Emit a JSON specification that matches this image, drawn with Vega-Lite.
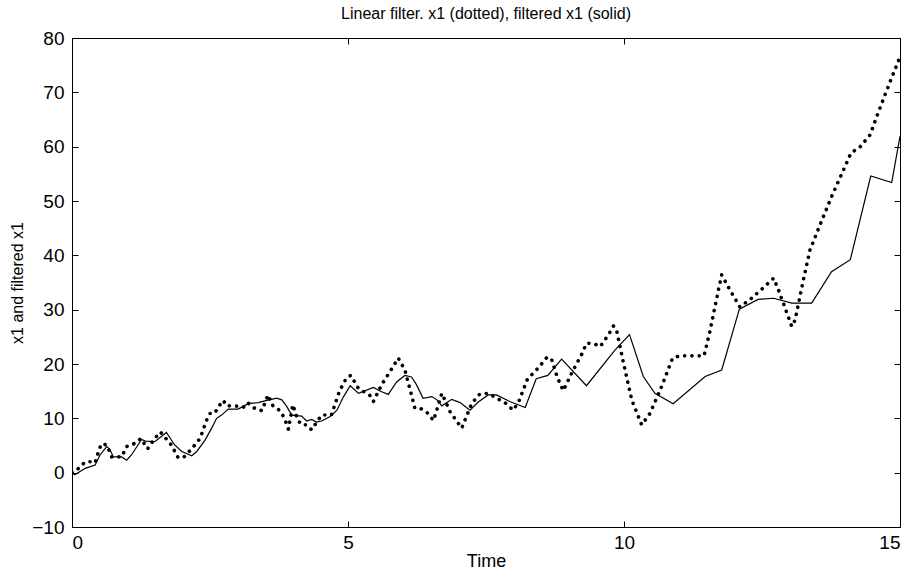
{
  "$schema": "https://vega.github.io/schema/vega-lite/v6.json",
  "autosize": {"type": "none"},
  "padding": {"left": 72, "top": 38, "right": 11, "bottom": 47},
  "width": 828,
  "height": 489,
  "background": "white",
  "title": {"text": "Linear filter. x1 (dotted), filtered x1 (solid)", "font": "Liberation Sans", "fontSize": 16, "fontWeight": "normal", "color": "black", "offset": 7},
  "config": {
    "view": {"stroke": "black", "strokeWidth": 1},
    "axis": {"grid": false, "domainColor": "black", "tickColor": "black", "labelColor": "black", "titleColor": "black", "labelFont": "Liberation Sans", "titleFont": "Liberation Sans", "labelFontSize": 19, "titleFontSize": 18, "titleFontWeight": "normal", "tickSize": -6}
  },
  "datasets": {
    "x1": [
      {"t":0,"v":0},{"t":0.12,"v":0.8},{"t":0.24,"v":2.0},{"t":0.33,"v":2.0},{"t":0.42,"v":1.8},{"t":0.48,"v":3.9},{"t":0.53,"v":5.3},{"t":0.63,"v":5.1},{"t":0.72,"v":2.9},{"t":0.9,"v":2.9},{"t":0.99,"v":4.8},{"t":1.14,"v":5.4},{"t":1.25,"v":6.3},{"t":1.37,"v":4.4},{"t":1.5,"v":6.3},{"t":1.6,"v":7.5},{"t":1.8,"v":5.1},{"t":1.92,"v":2.8},{"t":2.02,"v":2.8},{"t":2.17,"v":4.4},{"t":2.32,"v":6.3},{"t":2.44,"v":9.7},{"t":2.5,"v":10.9},{"t":2.58,"v":10.9},{"t":2.68,"v":12.5},{"t":2.74,"v":13.3},{"t":2.8,"v":12.3},{"t":2.95,"v":12.3},{"t":3.1,"v":12.0},{"t":3.18,"v":12.9},{"t":3.3,"v":11.9},{"t":3.44,"v":11.4},{"t":3.55,"v":14.3},{"t":3.64,"v":12.3},{"t":3.77,"v":11.4},{"t":3.85,"v":10.0},{"t":3.92,"v":8.0},{"t":4.0,"v":12.5},{"t":4.09,"v":9.7},{"t":4.16,"v":8.8},{"t":4.25,"v":8.8},{"t":4.34,"v":7.9},{"t":4.4,"v":8.8},{"t":4.52,"v":10.6},{"t":4.7,"v":10.6},{"t":4.84,"v":14.9},{"t":4.97,"v":17.4},{"t":5.05,"v":17.9},{"t":5.19,"v":15.5},{"t":5.4,"v":14.2},{"t":5.46,"v":13.1},{"t":5.61,"v":16.2},{"t":5.76,"v":18.6},{"t":5.91,"v":21.1},{"t":6.03,"v":18.9},{"t":6.15,"v":14.3},{"t":6.21,"v":11.9},{"t":6.3,"v":11.9},{"t":6.42,"v":11.2},{"t":6.55,"v":9.6},{"t":6.7,"v":14.6},{"t":6.85,"v":11.2},{"t":7.06,"v":8.2},{"t":7.24,"v":12.7},{"t":7.39,"v":14.5},{"t":7.54,"v":14.6},{"t":7.87,"v":12.7},{"t":7.99,"v":11.5},{"t":8.09,"v":13.0},{"t":8.25,"v":17.2},{"t":8.44,"v":19.2},{"t":8.61,"v":21.3},{"t":8.69,"v":20.8},{"t":8.79,"v":17.6},{"t":8.9,"v":15.1},{"t":9.05,"v":18.3},{"t":9.23,"v":21.7},{"t":9.32,"v":23.8},{"t":9.44,"v":23.8},{"t":9.57,"v":23.2},{"t":9.72,"v":25.4},{"t":9.81,"v":27.0},{"t":9.87,"v":26.0},{"t":9.99,"v":20.2},{"t":10.14,"v":13.4},{"t":10.32,"v":8.8},{"t":10.47,"v":10.9},{"t":10.68,"v":15.8},{"t":10.88,"v":21.1},{"t":11.01,"v":21.5},{"t":11.45,"v":21.5},{"t":11.55,"v":25.7},{"t":11.71,"v":33.6},{"t":11.77,"v":36.4},{"t":11.92,"v":33.6},{"t":12.1,"v":30.5},{"t":12.31,"v":32.1},{"t":12.52,"v":34.0},{"t":12.71,"v":35.8},{"t":12.8,"v":33.6},{"t":13.04,"v":26.9},{"t":13.1,"v":28.1},{"t":13.25,"v":35.5},{"t":13.37,"v":41.0},{"t":13.55,"v":45.6},{"t":13.76,"v":50.8},{"t":13.95,"v":55.1},{"t":14.11,"v":58.8},{"t":14.28,"v":60.0},{"t":14.46,"v":62.2},{"t":14.58,"v":65.6},{"t":14.81,"v":71.7},{"t":15.0,"v":76.5}
    ],
    "filt": [
      {"t":0,"v":0},{"t":0.05,"v":-0.4},{"t":0.24,"v":0.8},{"t":0.42,"v":1.4},{"t":0.51,"v":3.3},{"t":0.63,"v":4.8},{"t":0.68,"v":4.4},{"t":0.75,"v":2.9},{"t":0.9,"v":2.9},{"t":0.99,"v":2.3},{"t":1.08,"v":3.3},{"t":1.26,"v":6.1},{"t":1.33,"v":5.8},{"t":1.5,"v":5.7},{"t":1.71,"v":7.4},{"t":1.86,"v":5.1},{"t":1.99,"v":3.9},{"t":2.17,"v":3.1},{"t":2.26,"v":3.9},{"t":2.41,"v":6.0},{"t":2.53,"v":8.2},{"t":2.62,"v":10.0},{"t":2.71,"v":10.6},{"t":2.83,"v":11.7},{"t":3.01,"v":11.7},{"t":3.19,"v":12.7},{"t":3.37,"v":12.9},{"t":3.53,"v":13.3},{"t":3.71,"v":13.7},{"t":3.8,"v":13.4},{"t":3.89,"v":12.2},{"t":3.98,"v":10.6},{"t":4.16,"v":10.4},{"t":4.25,"v":9.5},{"t":4.34,"v":9.8},{"t":4.43,"v":9.3},{"t":4.52,"v":9.5},{"t":4.67,"v":10.3},{"t":4.8,"v":11.5},{"t":4.92,"v":14.0},{"t":5.04,"v":16.0},{"t":5.19,"v":14.6},{"t":5.46,"v":15.7},{"t":5.61,"v":14.9},{"t":5.73,"v":14.4},{"t":5.88,"v":16.7},{"t":6.03,"v":17.9},{"t":6.15,"v":17.6},{"t":6.24,"v":16.2},{"t":6.36,"v":13.7},{"t":6.52,"v":14.0},{"t":6.61,"v":13.4},{"t":6.7,"v":12.3},{"t":6.88,"v":13.5},{"t":7.03,"v":12.9},{"t":7.21,"v":11.5},{"t":7.36,"v":13.0},{"t":7.54,"v":14.3},{"t":7.69,"v":14.3},{"t":7.93,"v":13.1},{"t":8.21,"v":12.0},{"t":8.41,"v":17.3},{"t":8.62,"v":17.9},{"t":8.87,"v":20.9},{"t":9.32,"v":16.0},{"t":9.84,"v":22.6},{"t":10.1,"v":25.4},{"t":10.35,"v":17.7},{"t":10.56,"v":14.6},{"t":10.89,"v":12.7},{"t":11.47,"v":17.7},{"t":11.77,"v":18.9},{"t":12.09,"v":30.1},{"t":12.43,"v":31.9},{"t":12.71,"v":32.1},{"t":13.04,"v":31.2},{"t":13.4,"v":31.2},{"t":13.76,"v":37.0},{"t":14.1,"v":39.2},{"t":14.47,"v":54.6},{"t":14.85,"v":53.4},{"t":15.0,"v":61.9}
    ]
  },
  "layer": [
    {
      "data": {"name": "filt"},
      "mark": {"type": "line", "color": "black", "strokeWidth": 1.2, "clip": true},
      "encoding": {
        "x": {"field": "t", "type": "quantitative", "scale": {"domain": [0, 15], "nice": false, "zero": false}, "axis": {"orient": "bottom", "values": [0, 5, 10, 15], "title": "Time", "labelPadding": 12, "titlePadding": 0}},
        "y": {"field": "v", "type": "quantitative", "scale": {"domain": [-10, 80], "nice": false, "zero": false}, "axis": {"orient": "left", "values": [-10, 0, 10, 20, 30, 40, 50, 60, 70, 80], "title": "x1 and filtered x1", "titleFontSize": 16, "labelPadding": 14, "titlePadding": 6}}
      }
    },
    {
      "data": {"name": "x1"},
      "mark": {"type": "line", "color": "black", "strokeWidth": 3.6, "strokeDash": [0.1, 7.2], "strokeCap": "round", "clip": true},
      "encoding": {
        "x": {"field": "t", "type": "quantitative", "axis": null},
        "y": {"field": "v", "type": "quantitative", "axis": null}
      }
    },
    {
      "data": {"name": "filt"},
      "mark": {"type": "line", "opacity": 0},
      "encoding": {
        "x": {"field": "t", "type": "quantitative", "axis": {"orient": "top", "values": [0, 5, 10, 15], "labels": false, "title": null}},
        "y": {"field": "v", "type": "quantitative", "axis": {"orient": "right", "values": [-10, 0, 10, 20, 30, 40, 50, 60, 70, 80], "labels": false, "title": null}}
      }
    }
  ],
  "resolve": {"axis": {"x": "independent", "y": "independent"}}
}
